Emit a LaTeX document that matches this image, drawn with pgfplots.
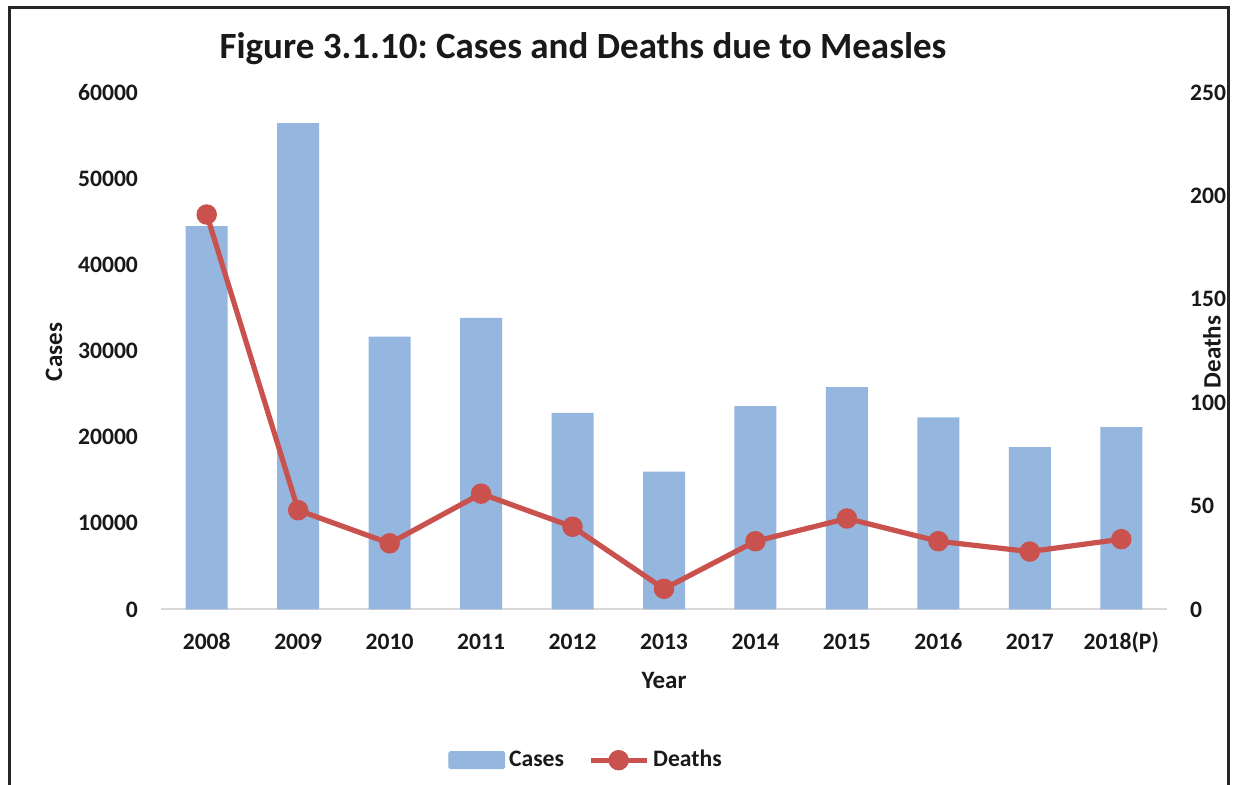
\documentclass[border=0pt]{standalone}
\usepackage{pgfplots}
\pgfplotsset{compat=1.18}
\usepackage{fontspec}
\setmainfont{Carlito}
\frenchspacing
\definecolor{barblue}{HTML}{95B6DF}
\definecolor{linered}{HTML}{C9524F}
\begin{document}
\begin{tikzpicture}
\useasboundingbox (0,0) rectangle (616.5pt,392.5pt);
\draw[line width=1.5pt, black!85] (4.5pt,-2pt) -- (4.5pt,388.5pt) -- (614pt,388.5pt) -- (614pt,-2pt);
\begin{axis}[
  at={(80.5pt,87.75pt)}, anchor=south west,
  scale only axis, width=503pt, height=258.5pt,
  xmin=-0.5, xmax=10.5, ymin=0, ymax=60000,
  xtick={0,...,10},
  xticklabels={2008,2009,2010,2011,2012,2013,2014,2015,2016,2017,2018(P)},
  ytick={0,10000,...,60000},
  scaled y ticks=false,
  /pgf/number format/.cd, 1000 sep={}, assume math mode=true, /pgfplots/.cd,
  axis line style={draw=none}, tick style={draw=none},
  ticklabel style={font=\fontsize{11.8}{14}\selectfont\bfseries, text=black!90},
  yticklabel style={xshift=-8pt},
  xticklabel style={yshift=-8pt, text height=8.5pt, text depth=2.5pt},
  clip=false,
]
\draw[black!15, line width=1pt] (axis cs:-0.5,0) -- (axis cs:10.5,0);
\addplot[ybar, bar width=21pt, fill=barblue, draw=none] coordinates {
(0,44500) (1,56450) (2,31670) (3,33840) (4,22810) (5,16000) (6,23600) (7,25800) (8,22300) (9,18830) (10,21150)};
\end{axis}
\begin{axis}[
  at={(80.5pt,87.75pt)}, anchor=south west,
  scale only axis, width=503pt, height=258.5pt,
  xmin=-0.5, xmax=10.5, ymin=0, ymax=250,
  axis y line*=right, axis x line=none,
  ytick={0,50,...,250},
  /pgf/number format/.cd, assume math mode=true, /pgfplots/.cd,
  axis line style={draw=none}, tick style={draw=none},
  ticklabel style={font=\fontsize{11.8}{14}\selectfont\bfseries, text=black!90},
  yticklabel style={xshift=8pt},
  clip=false,
  legend style={draw=none, fill=none, at={(0.4235,-0.2915)}, anchor=center,
    font=\fontsize{11.8}{14}\selectfont\bfseries, legend columns=2,
    /tikz/every even column/.append style={column sep=10pt},
    inner sep=0pt, text=black!90},
]
\addlegendimage{legend image code/.code={\fill[barblue, rounded corners=0.8pt] (0pt,-4.3pt) rectangle (28pt,4.3pt);}}
\addlegendentry{Cases}
\addplot[linered, line width=2.6pt, mark=*, mark size=3.8pt, mark options={fill=linered, draw=none},
  legend image code/.code={\draw[mark repeat=2, mark phase=2] plot coordinates {(0pt,0pt) (14pt,0pt) (28pt,0pt)};}]
coordinates {(0,191) (1,48) (2,32) (3,56) (4,40) (5,10) (6,33) (7,44) (8,33) (9,28) (10,34)};
\addlegendentry{Deaths}
\end{axis}
\node[font=\fontsize{18.5}{22}\selectfont\bfseries, text=black!90] at (291.5pt,368pt) {Figure 3.1.10: Cases and Deaths due to Measles};
\node[font=\fontsize{12.5}{15}\selectfont\bfseries, text=black!90, rotate=90] at (27pt,216.5pt) {Cases};
\node[font=\fontsize{12.5}{15}\selectfont\bfseries, text=black!90, rotate=90] at (606pt,216.5pt) {Deaths};
\node[font=\fontsize{12.5}{15}\selectfont\bfseries, text=black!90] at (332pt,52.5pt) {Year};
\end{tikzpicture}
\end{document}
